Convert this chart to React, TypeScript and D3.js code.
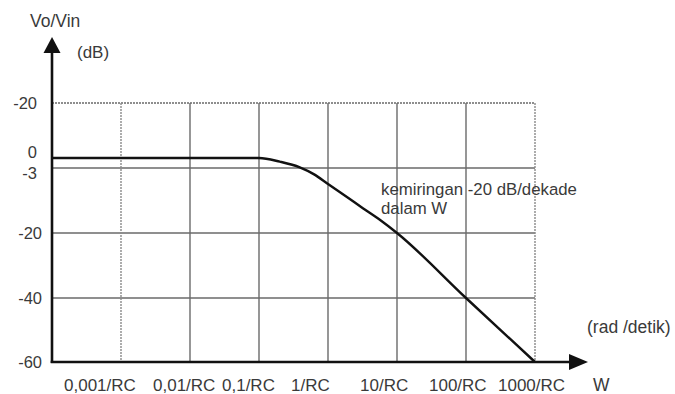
import * as d3 from "d3";

const WIDTH = 675;
const HEIGHT = 394;

// decades of W, in units of 1/RC
const decades = [0.001, 0.01, 0.1, 1, 10, 100, 1000];
const decadeLabels = ["0,001/RC", "0,01/RC", "0,1/RC", "1/RC", "10/RC", "100/RC", "1000/RC"];

// gain ticks (dB) and the labels printed next to them
const gainTicks = [20, 0, -3, -20, -40, -60];
const gainLabels = ["-20", "0", "-3", "-20", "-40", "-60"];
const gridGains = [20, -3, -20, -40];

// response curve
const curveW = [0.0001, 0.1, 0.2, 0.39, 0.62, 1, 1.88, 3.2, 5.7, 10, 100, 1000];
const curveGain = [0, 0, -1.1, -2.8, -4.6, -7.2, -10.6, -13.5, -16.6, -20, -40, -60];

const FONT = "'Liberation Sans', Arial, sans-serif";
const TEXT = "#3a3a3a";
const GRID = "#6a6a6a";

export default function App() {
  const x = d3.scaleLog().domain([0.0001, 1000]).range([52, 535]);
  // the drawing's gain axis is not evenly spaced
  const y = d3
    .scaleLinear()
    .domain([-60, -40, -20, -3, 0, 20])
    .range([362, 298, 233, 168, 158, 103]);

  const line = d3
    .line<number>()
    .x((_, i) => x(curveW[i]))
    .y((d) => y(d))
    .curve(d3.curveMonotoneX);

  const x0 = x(0.0001);
  const x1 = x(1000);
  const yBottom = y(-60);
  const yTop = y(20);
  const axisEnd = 588;
  const axisTop = 37;

  const labelDy = (g: number) => (g === 0 ? 0 : g === -3 ? 11 : 6);

  return (
    <svg
      width={WIDTH}
      height={HEIGHT}
      style={{ position: "fixed", left: 0, top: 0, background: "#fff" }}
      fontFamily={FONT}
    >
      {/* horizontal grid */}
      {gridGains.map((g) => (
        <line
          key={`h${g}`}
          x1={x0}
          x2={x1}
          y1={y(g)}
          y2={y(g)}
          stroke={GRID}
          strokeWidth={g === 20 ? 1.6 : 1.4}
          strokeDasharray={g === 20 ? "2 1" : undefined}
        />
      ))}
      {/* vertical grid */}
      {decades.map((d, i) => (
        <line
          key={`v${d}`}
          x1={x(d)}
          x2={x(d)}
          y1={yTop}
          y2={yBottom}
          stroke={i === 0 || i === decades.length - 1 ? "#8a8a8a" : GRID}
          strokeWidth={1.4}
          strokeDasharray={i === 0 || i === decades.length - 1 ? "2 1" : undefined}
        />
      ))}

      {/* response */}
      <path d={line(curveGain) ?? ""} fill="none" stroke="#111" strokeWidth={2.4} />

      {/* axes */}
      <line x1={x0} x2={x0} y1={yBottom + 1} y2={axisTop + 14} stroke="#111" strokeWidth={2.6} />
      <path
        d={`M${x0},${axisTop} L${x0 - 8.5},${axisTop + 16} L${x0 + 8.5},${axisTop + 16} Z`}
        fill="#111"
      />
      <line x1={x0 - 1.3} x2={axisEnd - 16} y1={yBottom} y2={yBottom} stroke="#111" strokeWidth={2.6} />
      <path
        d={`M${axisEnd},${yBottom} L${axisEnd - 19},${yBottom - 8} L${axisEnd - 19},${yBottom + 8} Z`}
        fill="#111"
      />

      {/* gain labels */}
      {gainTicks.map((g, i) => (
        <text
          key={`gl${i}`}
          x={g >= -3 ? 37 : 42}
          y={y(g) + labelDy(g)}
          textAnchor="end"
          fontSize={16.5}
          fill={TEXT}
        >
          {gainLabels[i]}
        </text>
      ))}

      {/* W labels */}
      {decades.map((d, i) => (
        <text
          key={`wl${d}`}
          x={x(d) - (i === 0 ? 57 : 37)}
          y={391}
          textAnchor="start"
          fontSize={17}
          fill={TEXT}
        >
          {decadeLabels[i]}
        </text>
      ))}

      <text x={30} y={27} fontSize={17.5} fill={TEXT}>Vo/Vin</text>
      <text x={77} y={58} fontSize={17} fill={TEXT}>(dB)</text>
      <text x={381} y={195} fontSize={16.8} fill={TEXT}>kemiringan -20 dB/dekade</text>
      <text x={381} y={214} fontSize={16.8} fill={TEXT}>dalam W</text>
      <text x={587} y={333} fontSize={17.5} fill={TEXT}>(rad /detik)</text>
      <text x={593} y={391} fontSize={17.5} fill={TEXT}>W</text>
    </svg>
  );
}
